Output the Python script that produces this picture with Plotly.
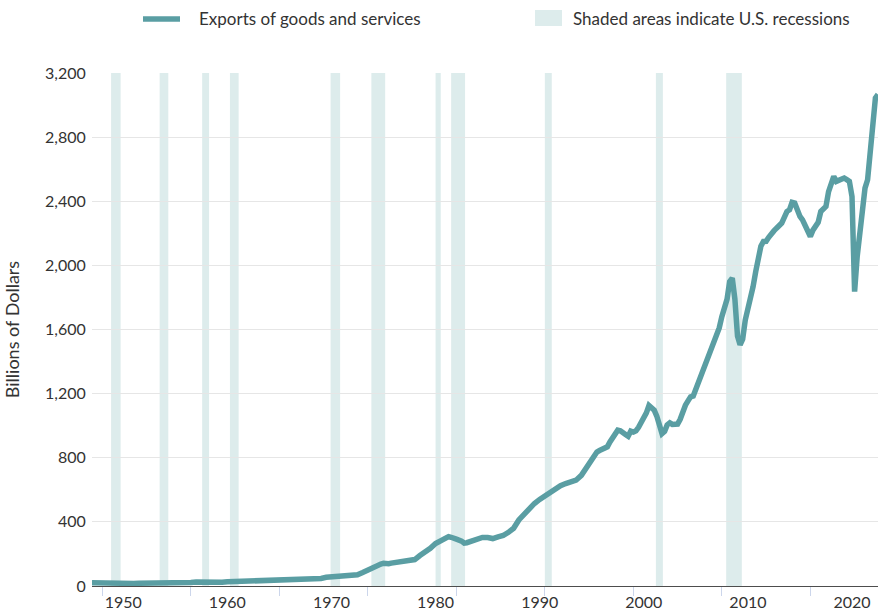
import plotly.graph_objects as go

# ---- data (billions of dollars, SAAR) ----
dates = [
    "1947-01-01", "1947-07-01", "1948-01-01", "1948-07-01", "1949-01-01", "1949-07-01",
    "1950-01-01", "1950-07-01", "1951-01-01", "1951-07-01", "1952-01-01", "1952-07-01",
    "1953-01-01", "1953-07-01", "1954-01-01", "1954-07-01", "1955-01-01", "1955-07-01",
    "1956-01-01", "1956-07-01", "1957-01-01", "1957-07-01", "1958-01-01", "1958-07-01",
    "1959-01-01", "1959-07-01", "1960-01-01", "1960-07-01", "1961-01-01", "1961-07-01",
    "1962-01-01", "1962-07-01", "1963-01-01", "1963-07-01", "1964-01-01", "1964-07-01",
    "1965-01-01", "1965-07-01", "1966-01-01", "1966-07-01", "1967-01-01", "1967-07-01",
    "1968-01-01", "1968-07-01", "1969-01-01", "1969-07-01", "1970-01-01", "1970-07-01",
    "1971-01-01", "1971-07-01", "1972-01-01", "1972-07-01",
    "1973-01-01", "1973-04-01", "1973-07-01", "1973-10-01",
    "1974-01-01", "1974-04-01", "1974-07-01", "1974-10-01",
    "1975-01-01", "1975-04-01", "1975-07-01", "1975-10-01",
    "1976-01-01", "1976-07-01", "1977-01-01", "1977-07-01", "1977-10-01",
    "1978-01-01", "1978-07-01", "1979-01-01", "1979-07-01",
    "1980-01-01", "1980-07-01", "1981-01-01", "1981-04-01", "1981-07-01", "1981-10-01",
    "1982-01-01", "1982-07-01", "1982-10-01", "1983-01-01", "1983-07-01",
    "1984-01-01", "1984-07-01", "1985-01-01", "1985-07-01", "1986-01-01", "1986-07-01",
    "1987-01-01", "1987-07-01", "1988-01-01", "1988-07-01", "1989-01-01", "1989-07-01",
    "1990-01-01", "1990-07-01", "1991-01-01", "1991-07-01", "1992-01-01", "1992-07-01",
    "1993-01-01", "1993-07-01",
    "1994-01-01", "1994-04-01", "1994-07-01", "1994-10-01",
    "1995-01-01", "1995-04-01", "1995-07-01", "1995-10-01",
    "1996-01-01", "1996-04-01", "1996-07-01", "1996-10-01",
    "1997-01-01", "1997-04-01", "1997-07-01", "1997-10-01",
    "1998-01-01", "1998-04-01", "1998-07-01", "1998-10-01",
    "1999-01-01", "1999-04-01", "1999-07-01", "1999-10-01",
    "2000-01-01", "2000-04-01", "2000-07-01", "2000-10-01",
    "2001-01-01", "2001-04-01", "2001-07-01", "2001-10-01",
    "2002-01-01", "2002-04-01", "2002-07-01", "2002-10-01",
    "2003-01-01", "2003-04-01", "2003-07-01", "2003-10-01",
    "2004-01-01", "2004-04-01", "2004-07-01", "2004-10-01",
    "2005-01-01", "2005-04-01", "2005-07-01", "2005-10-01",
    "2006-01-01", "2006-04-01", "2006-07-01", "2006-10-01",
    "2007-01-01", "2007-04-01", "2007-07-01", "2007-10-01",
    "2008-01-01", "2008-04-01", "2008-07-01", "2008-10-01",
    "2009-01-01", "2009-04-01", "2009-07-01", "2009-10-01",
    "2010-01-01", "2010-04-01", "2010-07-01", "2010-10-01",
    "2011-01-01", "2011-04-01", "2011-07-01", "2011-10-01",
    "2012-01-01", "2012-04-01", "2012-07-01", "2012-10-01",
    "2013-01-01", "2013-04-01", "2013-07-01", "2013-10-01",
    "2014-01-01", "2014-04-01", "2014-07-01", "2014-10-01",
    "2015-01-01", "2015-04-01", "2015-07-01", "2015-10-01",
    "2016-01-01", "2016-04-01", "2016-07-01", "2016-10-01",
    "2017-01-01", "2017-04-01", "2017-07-01", "2017-10-01",
    "2018-01-01", "2018-04-01", "2018-07-01", "2018-10-01",
    "2019-01-01", "2019-04-01", "2019-07-01", "2019-10-01",
    "2020-01-01", "2020-04-01", "2020-07-01", "2020-10-01",
    "2021-01-01", "2021-04-01", "2021-07-01", "2021-10-01",
    "2022-01-01", "2022-04-01", "2022-07-01",
]
exports = [
    20, 19, 16, 15, 15, 13,
    11, 12, 16, 17, 17, 15,
    15, 15, 15, 16, 17, 18,
    20, 22, 25, 24, 21, 20,
    22, 23, 26, 27, 28, 28,
    29, 30, 30, 32, 34, 35,
    35, 38, 40, 41, 43, 43,
    46, 49, 47, 54, 58, 60,
    62, 64, 66, 70,
    84, 92, 99, 108,
    120, 127, 130, 137,
    142, 136, 139, 143,
    145, 151, 156, 160, 157,
    165, 190, 210, 235,
    265, 283, 300, 308, 304, 302,
    292, 280, 268, 270, 278,
    292, 303, 302, 296, 307, 315,
    335, 360, 412, 445, 487, 515,
    540, 562, 583, 604, 625, 639,
    647, 660,
    690, 714, 738, 765,
    790, 815, 836, 845,
    852, 860, 868, 899,
    920, 950, 972, 968,
    961, 945, 934, 966,
    960, 968, 990, 1020,
    1045, 1080, 1126, 1115,
    1097, 1060, 1000, 951,
    965, 1005, 1018, 1008,
    1009, 1010, 1040, 1100,
    1128, 1155, 1180, 1185,
    1230, 1275, 1300, 1340,
    1400, 1445, 1476, 1520,
    1570, 1610, 1680, 1740,
    1790, 1899, 1920, 1790,
    1560, 1505, 1540, 1660,
    1722, 1790, 1867, 1960,
    2060, 2120, 2149, 2150,
    2175, 2201, 2215, 2232,
    2245, 2264, 2300, 2336,
    2347, 2393, 2389, 2340,
    2305, 2284, 2250, 2215,
    2180, 2220, 2243, 2268,
    2336, 2350, 2368, 2460,
    2510, 2555, 2524, 2530,
    2540, 2545, 2535, 2524,
    2430, 1836, 2055, 2211,
    2347, 2482, 2534, 2711,
    2795, 3044, 3066,
]

recession_start = ["1948-11-01", "1953-07-01", "1957-08-01", "1960-04-01", "1969-12-01",
                   "1973-11-01", "1980-01-01", "1981-07-01", "1990-07-01", "2001-03-01",
                   "2007-12-01"]
recession_end = ["1949-10-01", "1954-05-01", "1958-04-01", "1961-02-01", "1970-11-01",
                 "1975-03-01", "1980-07-01", "1982-11-01", "1991-03-01", "2001-11-01",
                 "2009-06-01"]

y_ticks = [0, 400, 800, 1200, 1600, 2000, 2400, 2800, 3200]
x_tick_years = [1950, 1960, 1970, 1980, 1990, 2000, 2010, 2020]

series_name = "Exports of goods and services"
recession_label = "Shaded areas indicate U.S. recessions"
y_title = "Billions of Dollars"

# ---- styling ----
LINE_COLOR = "#5a9ea3"
SHADE_COLOR = "#ddecec"
TEXT_COLOR = "#333333"
FONT = "Lato, 'Open Sans', sans-serif"

W, H = 878, 611
ML, MR, MT, MB = 92, 0, 73, 25
PW, PH = W - ML - MR, H - MT - MB


def px_to_paper_x(px):
    return (px - ML) / PW


def px_to_paper_y(py):
    return (H - MB - py) / PH


fig = go.Figure()

fig.add_trace(go.Scatter(
    x=dates, y=exports, mode="lines", name=series_name,
    line=dict(color=LINE_COLOR, width=5.5),
    showlegend=False, hoverinfo="x+y",
))

shapes = []
for s, e in zip(recession_start, recession_end):
    shapes.append(dict(type="rect", xref="x", yref="paper", x0=s, x1=e, y0=0, y1=1,
                       fillcolor=SHADE_COLOR, line=dict(width=0), layer="below"))

# custom legend (line sample + shaded box)
shapes.append(dict(type="line", xref="paper", yref="paper",
                   x0=px_to_paper_x(143), x1=px_to_paper_x(180),
                   y0=px_to_paper_y(19), y1=px_to_paper_y(19),
                   line=dict(color=LINE_COLOR, width=5.5)))
shapes.append(dict(type="rect", xref="paper", yref="paper",
                   x0=px_to_paper_x(535), x1=px_to_paper_x(562),
                   y0=px_to_paper_y(26), y1=px_to_paper_y(10),
                   fillcolor=SHADE_COLOR, line=dict(width=0)))

annotations = [
    dict(text=series_name, xref="paper", yref="paper",
         x=px_to_paper_x(197), y=px_to_paper_y(18.5), xanchor="left", yanchor="middle",
         showarrow=False, font=dict(family=FONT, size=17, color=TEXT_COLOR)),
    dict(text=recession_label, xref="paper", yref="paper",
         x=px_to_paper_x(571), y=px_to_paper_y(18.5), xanchor="left", yanchor="middle",
         showarrow=False, font=dict(family=FONT, size=17, color=TEXT_COLOR)),
]

fig.update_layout(
    width=W, height=H,
    margin=dict(l=ML, r=MR, t=MT, b=MB, pad=0, autoexpand=False),
    paper_bgcolor="white", plot_bgcolor="white",
    font=dict(family=FONT, size=16, color=TEXT_COLOR),
    shapes=shapes, annotations=annotations,
    showlegend=False,
)

fig.update_xaxes(
    type="date",
    range=["1947-01-01", "2022-07-01"],
    tickmode="array",
    tickvals=[f"{y}-01-01" for y in x_tick_years],
    ticktext=[str(y) for y in x_tick_years],
    ticks="outside", ticklen=2, tickcolor="rgba(0,0,0,0)",
    showgrid=False, zeroline=False,
    showline=True, linecolor="#4d4d4d", linewidth=1,
    tickfont=dict(family=FONT, size=16, color=TEXT_COLOR),
    minor=dict(ticks="outside", ticklen=9, tickcolor="#ccd6eb", tickwidth=1,
               tickmode="linear", tick0="1948-01-01", dtick="M102", showgrid=False),
    automargin=False,
    fixedrange=True,
)

fig.update_yaxes(
    range=[0, 3200],
    tickmode="array", tickvals=y_ticks,
    ticktext=[f"{v:,}" for v in y_ticks],
    ticks="outside", ticklen=2, tickcolor="rgba(0,0,0,0)",
    showgrid=True, gridcolor="#e6e6e6", gridwidth=1,
    zeroline=False, showline=False,
    tickfont=dict(family=FONT, size=16, color=TEXT_COLOR),
    title=dict(text=y_title, font=dict(family=FONT, size=18, color=TEXT_COLOR), standoff=20),
    automargin=False,
    fixedrange=True,
)

fig.write_html(
    "out.html",
    config={"displayModeBar": False},
    post_script="document.body.style.margin='0px';document.body.style.overflow='hidden';",
)
